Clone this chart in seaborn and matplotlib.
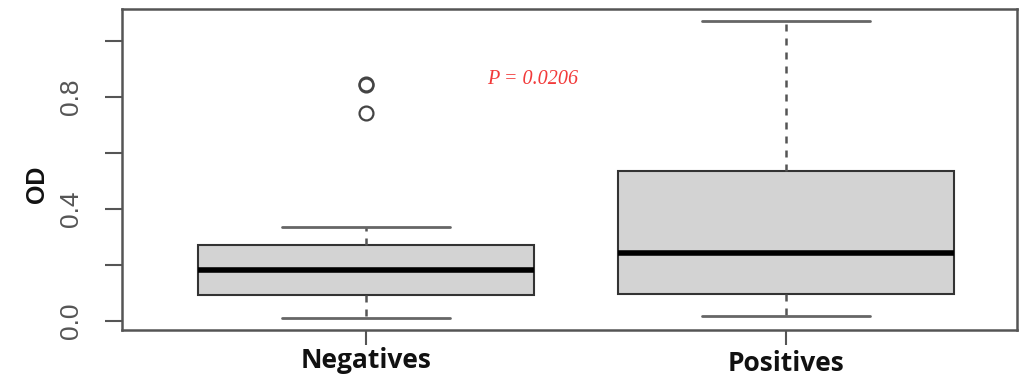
import matplotlib
matplotlib.use("Agg")
import matplotlib.pyplot as plt
import seaborn as sns
import pandas as pd

# ---- data ----
groups = ["Negatives", "Positives"]
negatives_od = [0.011, 0.03, 0.05, 0.07, 0.093, 0.11, 0.13, 0.16, 0.182,
                0.20, 0.22, 0.25, 0.271, 0.336, 0.743, 0.842, 0.846]
positives_od = [0.018, 0.05, 0.096, 0.17, 0.243, 0.38, 0.536, 0.80, 1.07]
y_ticks = [0.0, 0.2, 0.4, 0.6, 0.8, 1.0]
y_tick_labels = ["0.0", "", "0.4", "", "0.8", ""]
p_text = "P = 0.0206"
y_label = "OD"

df = pd.DataFrame({
    "Group": [groups[0]] * len(negatives_od) + [groups[1]] * len(positives_od),
    "OD": negatives_od + positives_od,
})

sns.set_style("white")
plt.rcParams["font.family"] = ["Liberation Sans", "DejaVu Sans"]

fig = plt.figure(figsize=(10.19, 3.78), dpi=100)
ax = fig.add_axes([122 / 1019, 48 / 378, 895 / 1019, 321 / 378])

sns.boxplot(
    data=df, x="Group", y="OD", order=groups, ax=ax,
    color="#d3d3d3", saturation=1, width=0.8, whis=1.5,
    linecolor="#333333", linewidth=1.5,
    boxprops=dict(edgecolor="#333333", linewidth=1.5),
    medianprops=dict(color="#000000", linewidth=4),
    whiskerprops=dict(color="#555555", linewidth=1.8, linestyle=(0, (2.8, 2.8))),
    capprops=dict(color="#666666", linewidth=2),
    flierprops=dict(marker="o", markersize=10, markerfacecolor="none",
                    markeredgecolor="#444444", markeredgewidth=1.6),
)

ax.set_xlim(-0.581, 1.55)
ax.set_ylim(-0.032, 1.114)
ax.set_yticks(y_ticks)
ax.set_yticklabels(y_tick_labels, rotation=90, va="center", fontsize=19, color="#555555")
ax.tick_params(axis="y", length=12, width=1.5, color="#555555", pad=16, left=True)
ax.tick_params(axis="x", length=11, width=1.5, color="#555555", pad=1, bottom=True)
for lbl in ax.get_xticklabels():
    lbl.set_fontfamily(["Open Sans", "DejaVu Sans"])
    lbl.set_fontweight("bold")
    lbl.set_fontsize(19)
    lbl.set_color("#111111")
ax.xaxis.get_major_ticks()[1].set_pad(3.5)

ax.set_xlabel("")
ax.set_ylabel(y_label, fontsize=18, fontweight="bold", color="#111111")
ax.yaxis.set_label_coords(-0.082, 0.455)

for s in ax.spines.values():
    s.set_visible(True)
    s.set_color("#555555")
    s.set_linewidth(1.8)

ax.text(0.398, 0.861, p_text, color="#f23a3a", fontsize=14.5, style="italic",
        family=["Liberation Serif", "DejaVu Serif"], ha="center", va="center")

fig.savefig("out.png", dpi=100)
